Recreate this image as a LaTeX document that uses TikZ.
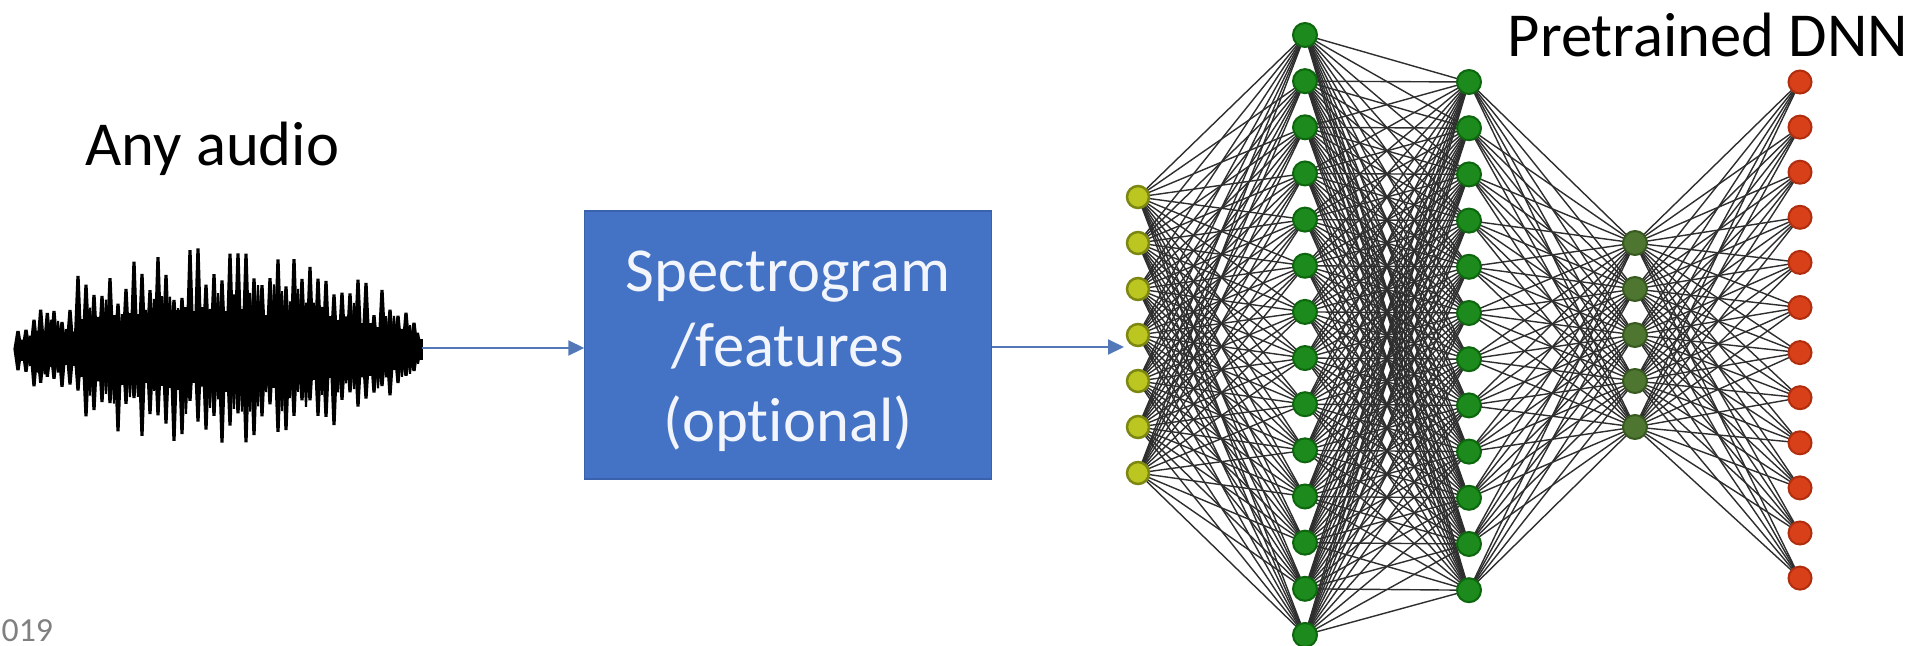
\documentclass[tikz,border=0pt]{standalone}
\usepackage{fontspec}
\setmainfont{Carlito}[Ligatures={NoCommon}]
\usetikzlibrary{arrows.meta,backgrounds}
\definecolor{boxblue}{HTML}{4472C4}
\definecolor{boxedge}{HTML}{3A62AC}
\definecolor{arrowblue}{HTML}{5278B8}
\definecolor{boxtext}{HTML}{F2F5FB}
\definecolor{yelfill}{HTML}{BCC621}
\definecolor{yeledge}{HTML}{7C8712}
\definecolor{grnfill}{HTML}{1C8A1C}
\definecolor{grnedge}{HTML}{0E660E}
\definecolor{olvfill}{HTML}{4E7630}
\definecolor{olvedge}{HTML}{385A20}
\definecolor{redfill}{HTML}{D8401A}
\definecolor{rededge}{HTML}{B02E0E}
\definecolor{edgegray}{HTML}{2E2E2E}
\begin{document}
\begin{tikzpicture}[x=0.01cm,y=-0.01cm,
  lbl/.style={font=\fontsize{17.8}{21.3}\selectfont, text=black, inner sep=0pt},
  procbox/.style={draw=boxedge, line width=0.012cm, fill=boxblue, minimum width=4.06cm, minimum height=2.68cm, inner sep=0pt},
  boxlbl/.style={align=center, text=boxtext, font=\fontsize{17.8}{21.3}\selectfont, inner sep=0pt},
  flow/.style={draw=arrowblue, line width=0.02cm, -{Triangle[length=0.16cm,width=0.15cm]}},
  yelnode/.style={circle, draw=yeledge, fill=yelfill, line width=0.025cm, minimum size=0.22cm, inner sep=0pt},
  grnnode/.style={circle, draw=grnedge, fill=grnfill, line width=0.02cm, minimum size=0.24cm, inner sep=0pt},
  olvnode/.style={circle, draw=olvedge, fill=olvfill, line width=0.02cm, minimum size=0.24cm, inner sep=0pt},
  outnode/.style={circle, draw=rededge, fill=redfill, line width=0.02cm, minimum size=0.23cm, inner sep=0pt},
  link/.style={draw=edgegray, line width=0.4pt},
  wave/.style={fill=black}
]
\useasboundingbox (0,0) rectangle (1918,645);

% labels
\node[lbl, anchor=base west] (anyaudio) at (85,165) {Any audio};
\node[lbl, anchor=base west] (pretrained) at (1507,56) {Pretrained DNN};
\node[anchor=base west, inner sep=0pt, text=black!50, font=\fontsize{9.6}{11}\selectfont] (year) at (1,641) {019};

% waveform
\pgfmathsetseed{11}
\foreach \xa/\ea/\xb/\eb in {18/22/34/44, 34/44/54/48, 54/48/78/48, 78/78/102/86, 102/86/126/92,
  126/92/150/98, 150/98/174/98, 174/98/198/106, 198/106/222/110, 222/110/246/110, 246/110/270/100,
  270/100/294/94, 294/94/318/90, 318/90/342/80, 342/80/366/68, 366/68/390/56, 390/56/406/44, 406/44/422/24} {
  \pgfmathtruncatemacro\nn{max(1,round((\xb-\xa)/8))-1}
  \foreach \k in {0,...,\nn} {
    \pgfmathsetmacro\ff{\k/(\nn+1)}
    \pgfmathsetmacro\xx{\xa+(\xb-\xa)*\ff}
    \pgfmathsetmacro\env{\ea+(\eb-\ea)*\ff}
    \pgfmathsetmacro\up{\env*(0.5+0.5*rnd)}
    \pgfmathsetmacro\dn{\env*(0.5+0.5*rnd)}
    \pgfmathsetmacro\su{\env*(0.3+0.35*rnd)}
    \pgfmathsetmacro\sd{\env*(0.3+0.35*rnd)}
    \pgfmathsetmacro\cu{\env*(0.3+0.12*rnd)}
    \pgfmathsetmacro\cd{\env*(0.3+0.12*rnd)}
    \fill[wave] (\xx-4.6,349) -- (\xx-1.6,{349-\up}) -- (\xx+1.6,{349-\up}) -- (\xx+4.6,349)
       -- (\xx+1.6,{349+\dn}) -- (\xx-1.6,{349+\dn}) -- cycle;
    \fill[wave] (\xx,349) -- (\xx+3,{349-\su}) -- (\xx+5,{349-\su}) -- (\xx+8,349)
       -- (\xx+5,{349+\sd}) -- (\xx+3,{349+\sd}) -- cycle;
    \fill[wave] (\xx-1,{349-\cu}) rectangle (\xx+9,{349+\cd});
  }
}
\draw[black, line width=0.02cm] (16,349) -- (422,349);
\coordinate (wend) at (422,348);

% processing box
\node[procbox] (spec) at (788,345) {};
\node[boxlbl] (spectext) at (788,351) {Spectrogram\\/features\\(optional)};
\coordinate (netin) at (1124,347);
\draw[flow] (wend) -- (spec.west |- wend);
\draw[flow] (spec.east |- netin) -- (netin);

% network nodes
\foreach \i in {1,...,7} \node[yelnode] (a\i) at (1138,{197+46*(\i-1)}) {};
\foreach \i in {1,...,14} \node[grnnode] (b\i) at (1305,{35+46.15*(\i-1)}) {};
\foreach \i in {1,...,12} \node[grnnode] (c\i) at (1469,{82+46.2*(\i-1)}) {};
\foreach \i in {1,...,5} \node[olvnode] (d\i) at (1635,{243+46*(\i-1)}) {};
\foreach \i in {1,...,12} \node[outnode] (e\i) at (1800,{82+45.1*(\i-1)}) {};

\begin{pgfonlayer}{background}
\foreach \i in {1,...,7} \foreach \j in {1,...,14} \draw[link] (a\i.center) -- (b\j.center);
\foreach \i in {1,...,14} \foreach \j in {1,...,12} \draw[link] (b\i.center) -- (c\j.center);
\foreach \i in {1,...,12} \foreach \j in {1,...,5} \draw[link] (c\i.center) -- (d\j.center);
\foreach \i in {1,...,5} \foreach \j in {1,...,12} \draw[link] (d\i.center) -- (e\j.center);
\end{pgfonlayer}
\end{tikzpicture}
\end{document}
